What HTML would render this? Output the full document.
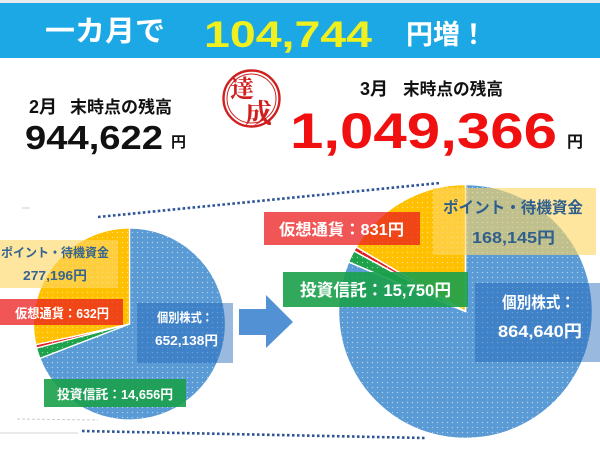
<!DOCTYPE html>
<html><head><meta charset="utf-8">
<style>
html,body{margin:0;padding:0;background:#fff;}
svg{display:block;}
text{font-family:"Liberation Sans","Noto Sans CJK JP",sans-serif;font-weight:bold;}
</style></head>
<body>
<svg width="600" height="455" viewBox="0 0 600 455" xmlns="http://www.w3.org/2000/svg">
<defs>
<pattern id="dots" width="5" height="5" patternUnits="userSpaceOnUse">
<circle cx="2.5" cy="2.5" r="0.65" fill="#ffffff" fill-opacity="0.55"/>
</pattern>
</defs>
<rect x="0" y="0" width="600" height="455" fill="#ffffff"/>
<!-- header -->
<rect x="0" y="0" width="600" height="3" fill="#e6eaed"/>
<rect x="0" y="3" width="600" height="55" fill="#1ca8e4"/>
<text x="45" y="41" font-size="29" fill="#ffffff" textLength="120" lengthAdjust="spacingAndGlyphs">一カ月で</text>
<text x="204" y="47" font-size="37" fill="#f0f01e" textLength="168" lengthAdjust="spacingAndGlyphs">104,744</text>
<text x="406" y="44" font-size="27" fill="#ffffff">円増！</text>

<!-- balances -->
<text x="29" y="113" font-size="18" fill="#111">2月</text>
<text x="70" y="113" font-size="17" fill="#111" textLength="102" lengthAdjust="spacingAndGlyphs">末時点の残高</text>
<text x="25" y="149" font-size="33" fill="#111" textLength="138" lengthAdjust="spacingAndGlyphs">944,622</text>
<text x="171" y="147" font-size="15" fill="#111">円</text>

<text x="360" y="95" font-size="18" fill="#111">3月</text>
<text x="403" y="95" font-size="17" fill="#111" textLength="100" lengthAdjust="spacingAndGlyphs">末時点の残高</text>
<text x="290" y="148" font-size="50" fill="#f01010" textLength="267" lengthAdjust="spacingAndGlyphs">1,049,366</text>
<text x="567" y="147" font-size="16" fill="#111">円</text>

<!-- stamp -->
<circle cx="251.5" cy="98.5" r="28" fill="none" stroke="#cf1f1f" stroke-width="2.4"/>
<circle cx="251.5" cy="98.5" r="24.5" fill="none" stroke="#cf1f1f" stroke-width="1"/>
<text x="230" y="97" font-size="24" fill="#cf1f1f" style="font-family:'Noto Serif CJK SC','Noto Serif CJK JP',serif;font-weight:bold">達</text>
<text x="245" y="123" font-size="27" fill="#cf1f1f" style="font-family:'Noto Serif CJK SC','Noto Serif CJK JP',serif;font-weight:bold">成</text>

<!-- faint gray guide lines -->
<line x1="22" y1="208" x2="30" y2="208" stroke="#c8ccd0" stroke-width="1"/>
<line x1="17" y1="419" x2="98" y2="420" stroke="#c8ccd0" stroke-width="1" stroke-dasharray="3 2"/>
<line x1="0" y1="433" x2="78" y2="433" stroke="#d0d4d8" stroke-width="1"/>

<!-- dotted connector lines -->
<line x1="98" y1="217" x2="440" y2="183" stroke="#2f5597" stroke-width="2.6" stroke-dasharray="2.6 2.4"/>
<line x1="82" y1="431" x2="425" y2="438" stroke="#2f5597" stroke-width="2.6" stroke-dasharray="2.6 2.4"/>

<!-- left pie -->
<g stroke="#ffffff" stroke-width="1.3" stroke-linejoin="round">
<path d="M129.5,324 L129.5,228 A96,96 0 1 1 39.88,358.40 Z" fill="#5b9bd5"/>
<path d="M129.5,324 L39.88,358.40 A96,96 0 0 1 36.56,348.04 Z" fill="#1fa24c"/>
<path d="M129.5,324 L36.56,348.04 A96,96 0 0 1 35.78,344.78 Z" fill="#e02020"/>
<path d="M129.5,324 L35.78,344.78 A96,96 0 0 1 129.5,228 Z" fill="#ffc000"/>
</g>
<circle cx="129.5" cy="324" r="96" fill="url(#dots)"/>

<!-- right pie -->
<g stroke="#ffffff" stroke-width="1.5" stroke-linejoin="round">
<path d="M465.5,311.5 L465.5,184.5 A127,127 0 1 1 348.6,261.9 Z" fill="#5b9bd5"/>
<path d="M465.5,311.5 L348.6,261.9 A127,127 0 0 1 353.9,250.9 Z" fill="#1fa24c"/>
<path d="M465.5,311.5 L353.9,250.9 A127,127 0 0 1 356.1,247.0 Z" fill="#e02020"/>
<path d="M465.5,311.5 L356.1,247.0 A127,127 0 0 1 465.5,184.5 Z" fill="#ffc000"/>
</g>
<circle cx="465.5" cy="311.5" r="127" fill="url(#dots)"/>

<!-- left labels -->
<rect x="0" y="240" width="118" height="48" fill="rgb(255,215,100)" fill-opacity="0.62"/>
<text x="1" y="257" font-size="12.5" fill="#36658f" textLength="108" lengthAdjust="spacingAndGlyphs">ポイント・待機資金</text>
<text x="23" y="280" font-size="13" fill="#36658f" textLength="64" lengthAdjust="spacingAndGlyphs">277,196円</text>

<rect x="0" y="299" width="123" height="26" fill="rgb(235,30,30)" fill-opacity="0.75"/>
<text x="15" y="318" font-size="13" fill="#ffffff" textLength="94" lengthAdjust="spacingAndGlyphs">仮想通貨：632円</text>

<rect x="137" y="303" width="96" height="60" fill="rgb(30,100,185)" fill-opacity="0.45"/>
<text x="157" y="322" font-size="12.5" fill="#ffffff" textLength="56" lengthAdjust="spacingAndGlyphs">個別株式：</text>
<text x="155" y="345" font-size="13" fill="#ffffff" textLength="63" lengthAdjust="spacingAndGlyphs">652,138円</text>

<rect x="44" y="379" width="142" height="28" fill="rgb(25,160,75)" fill-opacity="0.9"/>
<text x="57" y="399" font-size="13" fill="#ffffff" textLength="116" lengthAdjust="spacingAndGlyphs">投資信託：14,656円</text>

<!-- arrow -->
<path d="M239,309 L266,309 L266,295 L293,322 L266,348 L266,335 L239,335 Z" fill="#5191d4"/>

<!-- right labels -->
<rect x="433" y="188" width="163" height="67" fill="rgb(255,215,100)" fill-opacity="0.62"/>
<text x="443" y="213" font-size="16" fill="#2f5f8c" textLength="140" lengthAdjust="spacingAndGlyphs">ポイント・待機資金</text>
<text x="472" y="243" font-size="16" fill="#2f5f8c" textLength="83" lengthAdjust="spacingAndGlyphs">168,145円</text>

<rect x="264" y="212" width="156" height="33" fill="rgb(235,30,30)" fill-opacity="0.75"/>
<text x="279" y="235" font-size="16" fill="#ffffff" textLength="125" lengthAdjust="spacingAndGlyphs">仮想通貨：831円</text>

<rect x="283" y="272" width="185" height="35" fill="rgb(25,160,75)" fill-opacity="0.9"/>
<text x="300" y="296" font-size="17" fill="#ffffff" textLength="151" lengthAdjust="spacingAndGlyphs">投資信託：15,750円</text>

<rect x="475" y="283" width="125" height="79" fill="rgb(30,100,185)" fill-opacity="0.45"/>
<text x="502" y="308" font-size="16" fill="#ffffff" textLength="73" lengthAdjust="spacingAndGlyphs">個別株式：</text>
<text x="498" y="337" font-size="17" fill="#ffffff" textLength="84" lengthAdjust="spacingAndGlyphs">864,640円</text>
</svg>
</body></html>
